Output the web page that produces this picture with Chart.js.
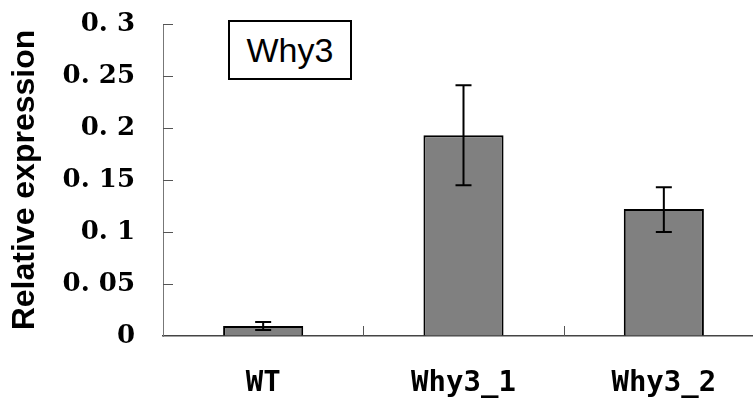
<!DOCTYPE html>
<html>
<head>
<meta charset="utf-8">
<script src="https://cdn.jsdelivr.net/npm/chart.js@4"></script>
<style>
  body { margin: 0; background: #fff; overflow: hidden; }
  #wrap { position: relative; width: 753px; height: 403px; overflow: hidden; }
  #legendBox {
    position: absolute; left: 228px; top: 20px; width: 120px; height: 56px;
    border: 2px solid #000; background: #fff;
    font: 34px "Liberation Sans", Arial, sans-serif; color: #000;
    display: flex; align-items: center; justify-content: center;
  }
</style>
</head>
<body>
<div id="wrap">
  <canvas id="chart" width="770" height="403"></canvas>
  <div id="legendBox">Why3</div>
</div>
<script>
var categories = ['WT', 'Why3_1', 'Why3_2'];
var expression = [0.0096, 0.193, 0.122];
var errPlus = [0.0038, 0.048, 0.021];
var errMinus = [0.0038, 0.048, 0.022];
var yTickLabels = ['0', '0. 05', '0. 1', '0. 15', '0. 2', '0. 25', '0. 3'];

// errorBars draws the vertical error whiskers with caps on each bar.
var errorBars = {
    id: 'errorBars',
    afterDatasetsDraw: function(chart) {
	var ctx = chart.ctx;
	var y = chart.scales.y;
	var meta = chart.getDatasetMeta(0);
	ctx.save();
	ctx.strokeStyle = '#000';
	ctx.lineWidth = 2;
	for(var i = 0; i < meta.data.length; i++) {
	    var x = meta.data[i].x;
	    var top = y.getPixelForValue(expression[i] + errPlus[i]);
	    var bot = y.getPixelForValue(expression[i] - errMinus[i]);
	    ctx.beginPath();
	    ctx.moveTo(x, top); ctx.lineTo(x, bot);
	    ctx.moveTo(x - 8, top); ctx.lineTo(x + 8, top);
	    ctx.moveTo(x - 8, bot); ctx.lineTo(x + 8, bot);
	    ctx.stroke();
	}
	ctx.restore();
    }
};

// innerTicks draws the short tick marks pointing into the plot area.
var innerTicks = {
    id: 'innerTicks',
    afterDraw: function(chart) {
	var ctx = chart.ctx;
	var area = chart.chartArea;
	var x = chart.scales.x, y = chart.scales.y;
	ctx.save();
	ctx.strokeStyle = '#555';
	ctx.lineWidth = 1;
	ctx.beginPath();
	for(var i = 1; i < yTickLabels.length; i++) {
	    var py = Math.round(y.getPixelForValue(i * 0.05)) + 0.5;
	    ctx.moveTo(area.left, py); ctx.lineTo(area.left + 10, py);
	}
	for(var j = 0; j < categories.length - 1; j++) {
	    var px = Math.round((x.getPixelForValue(j) + x.getPixelForValue(j + 1)) / 2) + 0.5;
	    ctx.moveTo(px, area.bottom); ctx.lineTo(px, area.bottom - 10);
	}
	ctx.stroke();
	ctx.restore();
    }
};

var conf = {
    type: 'bar',
    data: {
	labels: categories,
	datasets: [{
	    data: expression,
	    backgroundColor: '#808080',
	    borderColor: '#000',
	    borderWidth: 2,
	    barPercentage: 0.4,
	    categoryPercentage: 1.0,
	}],
    },
    options: {
	responsive: false,
	animation: false,
	devicePixelRatio: 1,
	layout: { padding: { left: 0, right: 6, top: 24, bottom: 0 } },
	plugins: {
	    legend: { display: false },
	    tooltip: { enabled: false },
	},
	scales: {
	    x: {
		grid: { display: false },
		border: { display: true, color: '#444', width: 1.5 },
		ticks: {
		    padding: 22,
		    color: '#000',
		    font: { family: '"DejaVu Sans Mono"', size: 29, weight: 'bold' },
		},
		afterFit: function(scale) { scale.height = 67; },
	    },
	    y: {
		min: 0,
		max: 0.3,
		// transparent ticks keep the labels away from the axis
		grid: { drawOnChartArea: false, drawTicks: true, tickLength: 28, tickColor: 'rgba(0,0,0,0)' },
		border: { display: true, color: '#777', width: 1 },
		ticks: {
		    stepSize: 0.05,
		    padding: 0,
		    color: '#000',
		    font: { family: '"DejaVu Serif"', size: 26, weight: 'bold' },
		    callback: function(v) { return yTickLabels[Math.round(v / 0.05)]; },
		},
		title: {
		    display: true,
		    text: 'Relative expression',
		    color: '#000',
		    padding: { top: 6, bottom: 0 },
		    font: { family: '"Liberation Sans"', size: 32, weight: 'bold' },
		},
		afterFit: function(scale) { scale.width = 163; },
	    },
	},
    },
    plugins: [errorBars, innerTicks],
};

var chart = new Chart(document.getElementById('chart').getContext('2d'), conf);
</script>
</body>
</html>
